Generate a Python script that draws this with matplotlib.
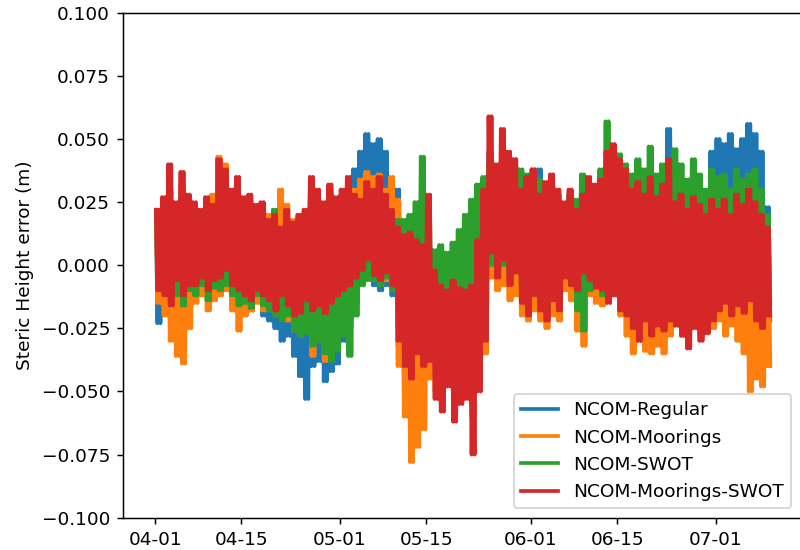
import numpy as np
import matplotlib
matplotlib.use("Agg")
import matplotlib.pyplot as plt

# Steric height error of each NCOM run, daily high and daily low (mm), 04-01 .. 07-09
start = np.datetime64("2023-04-01T00")

regular_hi = [20, 25, 30, 22, 28, 25, 22, 20, 24, 22,
              30, 28, 25, 28, 24, 22, 20, 22, 16, 18,
              14, 18, 15, 18, 20, 28, 26, 22, 28, 24,
              28, 30, 38, 45, 52, 48, 50, 45, 32, 30,
              8, 10, 6, 5, 10, -5, -10, -12, -8, -10,
              -12, -10, 5, 25, 45, 35, 40, 38, 40, 28,
              32, 36, 38, 30, 32, 28, 22, 28, 20, 25,
              30, 28, 30, 38, 40, 36, 32, 28, 30, 26,
              30, 25, 30, 54, 24, 26, 20, 24, 22, 20,
              45, 50, 48, 52, 46, 50, 56, 52, 45, 23]
regular_lo = [-23, -18, -20, -15, -18, -12, -12, -10, -14, -10,
              -10, -8, -12, -18, -16, -18, -14, -20, -22, -25,
              -30, -28, -36, -44, -53, -40, -38, -46, -42, -39,
              -30, -25, -15, -6, -3, -8, -10, -8, -12, -32,
              -42, -45, -38, -42, -40, -45, -50, -42, -47, -48,
              -45, -55, -40, -20, 0, -3, 2, -6, -4, -10,
              -18, -10, -15, -18, -10, -14, -3, -6, -14, -5,
              -9, -12, -14, -14, -10, -15, -18, -20, -22, -18,
              -22, -20, -24, -18, -20, -24, -26, -22, -26, -24,
              -18, -14, -16, -14, -12, -16, -12, -18, -20, -22]

moorings_hi = [18, 22, 30, 24, 32, 26, 24, 22, 26, 28,
               43, 40, 28, 32, 25, 26, 22, 24, 20, 22,
               30, 24, 18, 20, 22, 30, 28, 24, 30, 26,
               28, 32, 30, 34, 37, 35, 36, 30, 35, 26,
               10, 8, 6, 4, 12, -8, -12, -15, -10, -14,
               -15, -12, 0, 20, 40, 30, 35, 30, 32, 26,
               30, 34, 26, 30, 32, 28, 22, 26, 20, 26,
               32, 30, 32, 40, 44, 38, 34, 28, 30, 26,
               32, 25, 28, 35, 22, 25, 24, 30, 26, 18,
               24, 20, 22, 18, 24, 20, 26, 20, 16, 10]
moorings_lo = [-15, -20, -30, -36, -39, -25, -15, -12, -18, -14,
               -12, -10, -18, -26, -20, -18, -15, -18, -16, -20,
               -18, -22, -26, -28, -24, -36, -30, -38, -32, -28,
               -25, -18, -10, -4, -2, -6, -8, -6, -10, -40,
               -60, -78, -72, -65, -45, -50, -55, -48, -52, -50,
               -52, -60, -48, -35, -5, -10, -8, -14, -12, -20,
               -22, -18, -22, -25, -20, -22, -10, -14, -26, -32,
               -12, -15, -16, -14, -12, -20, -28, -35, -30, -34,
               -35, -32, -35, -28, -24, -28, -25, -22, -28, -26,
               -25, -22, -28, -24, -30, -35, -50, -45, -48, -40]

swot_hi = [20, 24, 26, 22, 28, 24, 20, 20, 22, 20,
           28, 26, 24, 28, 22, 24, 20, 22, 15, 22,
           14, 18, 15, 18, 20, 30, 26, 22, 28, 24,
           26, 28, 25, 24, 28, 26, 30, 25, 20, 18,
           18, 20, 25, 43, 26, 6, 8, 5, 9, 14,
           20, 26, 32, 35, 40, 38, 40, 43, 42, 38,
           36, 38, 34, 30, 32, 28, 24, 28, 26, 36,
           32, 30, 38, 57, 47, 44, 40, 36, 42, 38,
           47, 36, 40, 38, 46, 40, 34, 42, 36, 30,
           38, 35, 36, 30, 38, 34, 36, 38, 30, 20]
swot_lo = [-8, -10, -14, -12, -16, -10, -12, -8, -14, -9,
           -10, -8, -12, -16, -15, -17, -12, -16, -18, -20,
           -22, -20, -26, -28, -27, -32, -30, -35, -38, -34,
           -28, -36, -20, -8, -6, -6, -8, -5, -10, -25,
           -30, -35, -28, -25, -22, -14, -12, -15, -12, -14,
           -10, -12, -8, -10, 0, -2, 0, -4, 0, -10,
           -16, -10, -14, -18, -12, -10, -4, -8, -18, -26,
           -10, -8, -12, -10, -8, -12, -15, -18, -20, -18,
           -20, -18, -22, -15, -18, -20, -22, -18, -20, -18,
           -14, -10, -12, -10, -8, -12, -10, -14, -16, -15]

both_hi = [22, 27, 40, 25, 37, 28, 25, 22, 27, 24,
           42, 38, 30, 35, 27, 28, 24, 25, 18, 20,
           15, 22, 17, 20, 22, 35, 30, 25, 32, 27,
           30, 35, 28, 26, 33, 30, 35, 28, 22, 15,
           12, 13, 10, 8, 28, -2, -8, -10, -6, -9,
           -10, -8, 10, 30, 59, 40, 54, 45, 42, 30,
           35, 38, 28, 33, 36, 30, 25, 30, 22, 28,
           35, 32, 34, 45, 48, 42, 38, 30, 33, 28,
           35, 27, 32, 42, 25, 28, 22, 27, 24, 20,
           26, 22, 26, 20, 28, 24, 30, 25, 20, 15]
both_lo = [-10, -12, -16, -6, -12, -8, -8, -5, -10, -6,
           -5, -2, -8, -10, -12, -14, -10, -12, -14, -18,
           -12, -16, -20, -19, -14, -18, -16, -19, -15, -12,
           -10, -8, -5, -2, 2, -4, -6, -3, -8, -30,
           -40, -45, -35, -40, -38, -53, -58, -48, -62, -55,
           -53, -75, -50, -30, 5, -5, 2, -8, -3, -15,
           -20, -12, -18, -22, -14, -18, -5, -8, -10, -3,
           -6, -9, -10, -15, -12, -18, -20, -25, -30, -22,
           -28, -24, -26, -22, -24, -28, -33, -25, -30, -27,
           -22, -18, -15, -20, -16, -19, -14, -22, -25, -20]

labels = ["NCOM-Regular", "NCOM-Moorings", "NCOM-SWOT", "NCOM-Moorings-SWOT"]
series = [(regular_hi, regular_lo), (moorings_hi, moorings_lo),
          (swot_hi, swot_lo), (both_hi, both_lo)]

tick_labels = ["04-01", "04-15", "05-01", "05-15", "06-01", "06-15", "07-01"]
tick_dates = np.array(["2023-04-01", "2023-04-15", "2023-05-01", "2023-05-15",
                       "2023-06-01", "2023-06-15", "2023-07-01"], dtype="datetime64[h]")


def semidiurnal(hi, lo):
    # two tidal cycles a day: high, low, high, low (metres)
    return np.column_stack([hi, lo, hi, lo]).ravel() / 1000.0


n_days = len(both_hi)
times = start + (np.arange(4 * n_days) * 6 + 3).astype("timedelta64[h]")

fig = plt.figure(figsize=(6, 4.125), dpi=800 / 6)
ax = fig.add_axes([123 / 800, 1 - 517.7 / 550, 677.6 / 800, 505 / 550])

for name, (hi, lo) in zip(labels, series):
    ax.plot(times, semidiurnal(hi, lo), lw=2, label=name)

ax.set_xlim(start - np.timedelta64(125, "h"), start + np.timedelta64(2515, "h"))
ax.set_ylim(-0.1, 0.1)
ax.set_yticks(np.linspace(-0.1, 0.1, 9))
ax.set_xticks(tick_dates)
ax.set_xticklabels(tick_labels)
ax.set_ylabel("Steric Height error (m)")
ax.legend(loc="lower right")

fig.savefig("out.png", dpi=800 / 6)
